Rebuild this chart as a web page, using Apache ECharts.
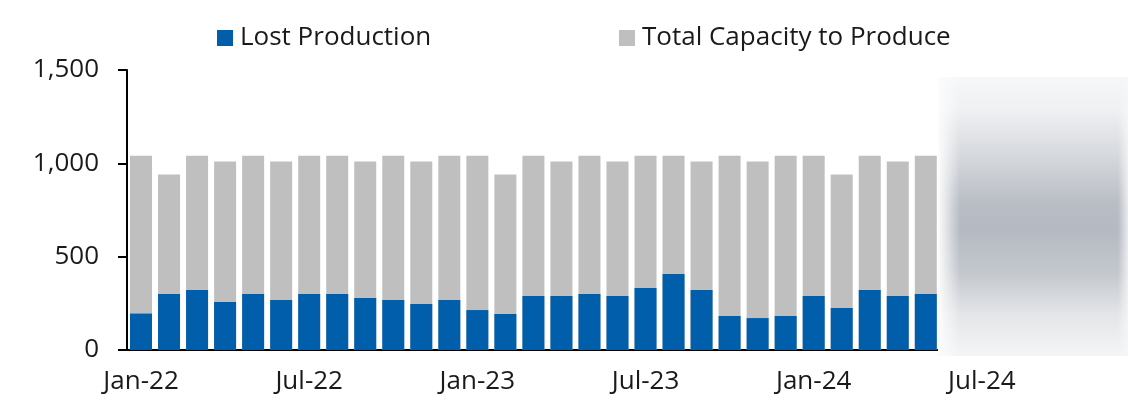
<!DOCTYPE html>
<html lang="en">
<head>
    <meta charset="UTF-8">
    <title>Lost Production</title>
    <script src="https://cdn.jsdelivr.net/npm/echarts@6/dist/echarts.min.js"></script>
</head>
<body style="margin:0;background:#fff;">
<div id="main" style="width:1128px;height:412px;"></div>
<script type="text/javascript">
    // months Jan-22 .. Dec-24 (the last ones are hidden under the blur)
    var months = ['Jan-22','Feb-22','Mar-22','Apr-22','May-22','Jun-22','Jul-22','Aug-22','Sep-22','Oct-22','Nov-22','Dec-22',
        'Jan-23','Feb-23','Mar-23','Apr-23','May-23','Jun-23','Jul-23','Aug-23','Sep-23','Oct-23','Nov-23','Dec-23',
        'Jan-24','Feb-24','Mar-24','Apr-24','May-24','Jun-24','Jul-24','Aug-24','Sep-24','Oct-24','Nov-24','Dec-24'];
    var lostProduction = [195, 300, 321, 257, 300, 268, 300, 300, 279, 268, 246, 268,
        214, 193, 289, 289, 300, 289, 332, 407, 321, 182, 171, 182,
        289, 225, 321, 289, 300];
    var totalCapacity = [1040, 940, 1040, 1010, 1040, 1010, 1040, 1040, 1010, 1040, 1010, 1040,
        1040, 940, 1040, 1010, 1040, 1010, 1040, 1040, 1010, 1040, 1010, 1040,
        1040, 940, 1040, 1010, 1040];
    var yTicks = [0, 500, 1000, 1500];

    var font = '"Open Sans", "Noto Sans", sans-serif';
    var txt = '#1a1a1a';

    var myChart = echarts.init(document.getElementById('main'));
    var option = {
        animation: false,
        textStyle: {fontFamily: font},
        legend: [{
            data: ['Lost Production'],
            left: 217, top: 25, padding: 0,
            icon: 'rect', itemWidth: 16, itemHeight: 16,
            textStyle: {fontSize: 26, color: txt, fontFamily: font, padding: [0, 0, 0, 2]}
        }, {
            data: ['Total Capacity to Produce'],
            left: 619, top: 25, padding: 0,
            icon: 'rect', itemWidth: 16, itemHeight: 16,
            textStyle: {fontSize: 26, color: txt, fontFamily: font, padding: [0, 0, 0, 2]}
        }],
        // plot runs past the right edge, the last months sit under the blur
        grid: {left: 127, width: 1009, top: 70, bottom: 62, containLabel: false, outerBoundsMode: 'none'},
        xAxis: {
            type: 'category',
            data: months,
            axisLine: {lineStyle: {color: '#000', width: 2}},
            axisTick: {interval: 5, length: 10, lineStyle: {color: '#000', width: 2}},
            axisLabel: {interval: 5, fontSize: 26, color: txt, margin: 19}
        },
        yAxis: {
            type: 'value',
            min: yTicks[0], max: yTicks[yTicks.length - 1], interval: 500,
            splitLine: {show: false},
            axisLine: {show: true, lineStyle: {color: '#000', width: 2}},
            axisTick: {show: true, length: 9, lineStyle: {color: '#000', width: 2}},
            axisLabel: {
                fontSize: 26, color: txt, margin: 28,
                formatter: function (v) { return v.toLocaleString('en-US'); }
            }
        },
        series: [{
            name: 'Total Capacity to Produce',
            type: 'bar',
            data: totalCapacity,
            barWidth: 22,
            barGap: '-100%',
            itemStyle: {color: '#bfbfbf'},
            z: 1
        }, {
            name: 'Lost Production',
            type: 'bar',
            data: lostProduction,
            barWidth: 22,
            barGap: '-100%',
            itemStyle: {color: '#005eab'},
            z: 2
        }],
        graphic: [{
            type: 'rect', z: 100,
            shape: {x: 938, y: 77, width: 190, height: 279},
            style: {
                fill: new echarts.graphic.LinearGradient(0, 0, 0, 1, [
                    {offset: 0, color: '#f6f7f8'},
                    {offset: 0.12, color: '#eff0f2'},
                    {offset: 0.28, color: '#d6d9dd'},
                    {offset: 0.45, color: '#b9bec5'},
                    {offset: 0.55, color: '#b5bac2'},
                    {offset: 0.7, color: '#c3c7cd'},
                    {offset: 0.85, color: '#e3e5e8'},
                    {offset: 1, color: '#f4f5f6'}
                ])
            }
        }, {
            type: 'rect', z: 101,
            shape: {x: 938, y: 77, width: 22, height: 279},
            style: {
                fill: new echarts.graphic.LinearGradient(0, 0, 1, 0, [
                    {offset: 0, color: 'rgba(252,252,253,1)'},
                    {offset: 1, color: 'rgba(252,252,253,0)'}
                ])
            }
        }, {
            type: 'rect', z: 101,
            shape: {x: 1118, y: 77, width: 10, height: 279},
            style: {
                fill: new echarts.graphic.LinearGradient(0, 0, 1, 0, [
                    {offset: 0, color: 'rgba(246,247,248,0)'},
                    {offset: 1, color: 'rgba(246,247,248,0.8)'}
                ])
            }
        }]
    };
    myChart.setOption(option);
</script>
</body>
</html>
